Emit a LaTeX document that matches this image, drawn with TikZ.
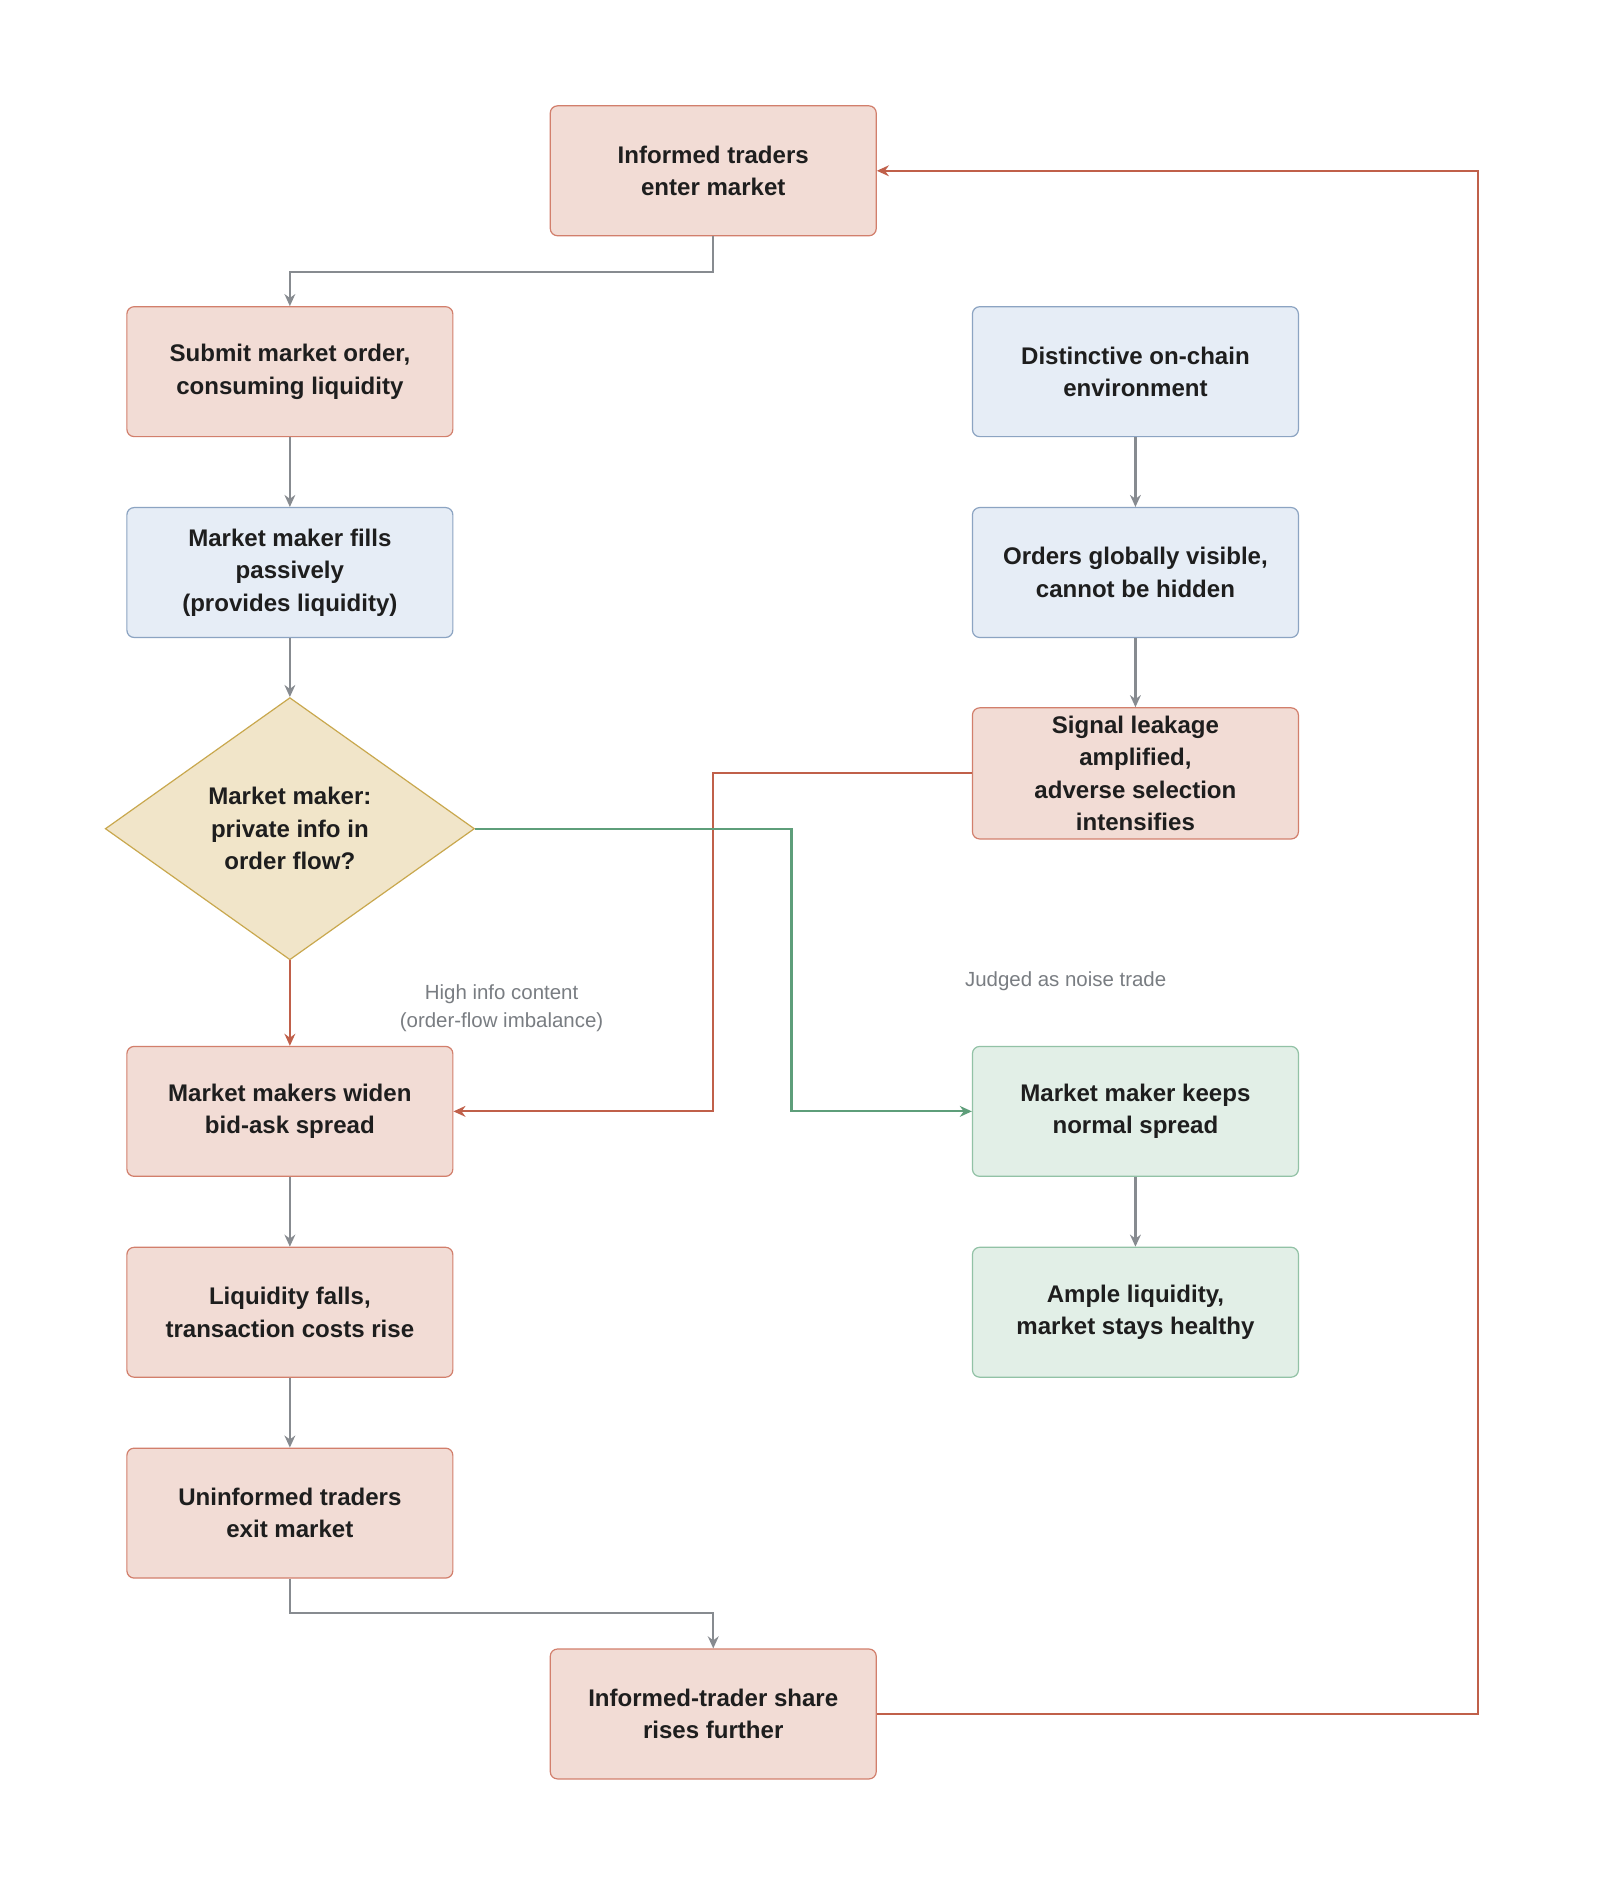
\documentclass[tikz,border=0pt]{standalone}
\usepackage{fontspec}
\setmainfont{Liberation Sans}
\usetikzlibrary{shapes.geometric,arrows.meta}
\definecolor{rf}{HTML}{F2DCD5}\definecolor{rs}{HTML}{D27F6C}
\definecolor{bf}{HTML}{E6EDF6}\definecolor{bs}{HTML}{8CA4C2}
\definecolor{gf}{HTML}{E2EFE7}\definecolor{gs}{HTML}{92C2A6}
\definecolor{df}{HTML}{F1E5C9}\definecolor{ds}{HTML}{C9A84E}
\definecolor{ga}{HTML}{878B90}\definecolor{ra}{HTML}{C0604A}\definecolor{gra}{HTML}{5E9E7A}
\definecolor{txt}{HTML}{1E1E1E}
\tikzset{
 base/.style={rectangle,rounded corners=3pt,minimum width=135.5pt,minimum height=54pt,align=center,font=\fontsize{10}{13.5}\selectfont\bfseries,text=txt,line width=0.5pt},
 red/.style={base,fill=rf,draw=rs},
 blue/.style={base,fill=bf,draw=bs},
 green/.style={base,fill=gf,draw=gs},
 dia/.style={diamond,aspect=1.41,fill=df,draw=ds,line width=0.5pt,align=center,font=\fontsize{10}{13.5}\selectfont\bfseries,text=txt,minimum width=153.5pt,minimum height=109pt,inner sep=0pt},
 ag/.style={draw=ga,line width=0.9pt,-{Stealth[length=5pt,width=4.5pt]}},
 ar/.style={draw=ra,line width=0.9pt,-{Stealth[length=5pt,width=4.5pt]}},
 agr/.style={draw=gra,line width=0.9pt,-{Stealth[length=5pt,width=4.5pt]}},
 lbl/.style={font=\fontsize{8.5}{11.5}\selectfont,text=ga!90!black,align=center}
}
\begin{document}
\begin{tikzpicture}[x=0.5pt,y=-0.5pt]
\useasboundingbox[fill=white] (0,0) rectangle (1330,1583);
\node[red] (inf) at (593,142) {Informed traders\\enter market};
\node[red] (sub) at (241,309) {Submit market order,\\consuming liquidity};
\node[blue] (fill) at (241,476) {Market maker fills\\passively\\(provides liquidity)};
\node[dia] (d) at (241,689) {Market maker:\\private info in\\order flow?};
\node[red] (wid) at (241,924) {Market makers widen\\bid-ask spread};
\node[red] (liq) at (241,1091) {Liquidity falls,\\transaction costs rise};
\node[red] (un) at (241,1258) {Uninformed traders\\exit market};
\node[red] (sh) at (593,1425) {Informed-trader share\\rises further};
\node[blue] (dist) at (944,309) {Distinctive on-chain\\environment};
\node[blue] (ord) at (944,476) {Orders globally visible,\\cannot be hidden};
\node[red] (sig) at (944,643) {Signal leakage\\amplified,\\adverse selection\\intensifies};
\node[green] (keep) at (944,924) {Market maker keeps\\normal spread};
\node[green] (amp) at (944,1091) {Ample liquidity,\\market stays healthy};
\node[lbl] (l1) at (417,838) {High info content\\(order-flow imbalance)};
\node[lbl] (l2) at (886,816) {Judged as noise trade};
\draw[ag] (inf.south) |- (241,226) -- (sub.north);
\draw[ag] (sub) -- (fill);
\draw[ag] (fill) -- (d.north);
\draw[ar] (d.south) -- (wid.north);
\draw[ag] (wid) -- (liq);
\draw[ag] (liq) -- (un);
\draw[ag] (un.south) |- (593,1341) -- (sh.north);
\draw[ag] (dist) -- (ord);
\draw[ag] (ord) -- (sig);
\draw[ag] (keep) -- (amp);
\draw[ar] (sig.west) -- (593,643) |- (wid.east);
\draw[agr] (d.east) -- (658,689) |- (keep.west);
\draw[ar] (sh.east) -- (1229,1425) |- (inf.east);
\end{tikzpicture}
\end{document}
